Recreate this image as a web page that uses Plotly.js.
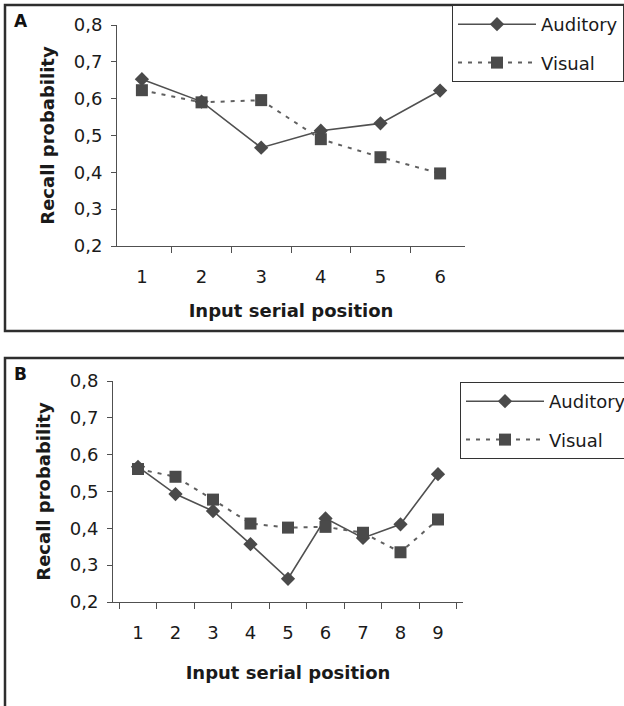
<!DOCTYPE html>
<html>
<head>
<meta charset="utf-8">
<script src="https://cdn.plot.ly/plotly-3.0.1.min.js"></script>
<style>
  html, body { margin: 0; padding: 0; background: #ffffff; }
  #chart { width: 624px; height: 706px; }
</style>
</head>
<body>
<div id="chart"></div>
<script>
// ---- Data ----
const positionsA = ['1', '2', '3', '4', '5', '6'];
const auditoryA = [0.653, 0.592, 0.467, 0.513, 0.533, 0.622];
const visualA   = [0.623, 0.590, 0.596, 0.490, 0.441, 0.397];

const positionsB = ['1', '2', '3', '4', '5', '6', '7', '8', '9'];
const auditoryB = [0.567, 0.493, 0.447, 0.357, 0.263, 0.427, 0.374, 0.411, 0.547];
const visualB   = [0.561, 0.540, 0.478, 0.413, 0.402, 0.404, 0.388, 0.335, 0.424];

const seriesNames = ['Auditory', 'Visual'];
const panelLabels = ['A', 'B'];
const xTitle = 'Input serial position';
const yTitle = 'Recall probability';

// ---- Styling ----
const W = 624, H = 706;
const px = v => v / W;
const py = v => 1 - v / H;
const FONT = 'DejaVu Sans';
const lineCol = '#505050';
const markCol = '#4a4a4a';

function audTrace(x, y, xa, ya, leg) {
  return {
    type: 'scatter', mode: 'lines+markers', name: seriesNames[0],
    x: x, y: y, xaxis: xa, yaxis: ya, legend: leg, legendgroup: leg + 'a',
    line: { color: lineCol, width: 1.6 },
    marker: { symbol: 'diamond', size: 11, color: markCol, line: { width: 0 } },
    hoverinfo: 'skip'
  };
}
function visTrace(x, y, xa, ya, leg) {
  return {
    type: 'scatter', mode: 'lines+markers', name: seriesNames[1],
    x: x, y: y, xaxis: xa, yaxis: ya, legend: leg, legendgroup: leg + 'v',
    line: { color: '#606060', width: 2, dash: '4px,6px' },
    marker: { symbol: 'square', size: 12, color: markCol, line: { width: 0 } },
    hoverinfo: 'skip'
  };
}

const data = [
  audTrace(positionsA, auditoryA, 'x', 'y', 'legend'),
  visTrace(positionsA, visualA, 'x', 'y', 'legend'),
  audTrace(positionsB, auditoryB, 'x2', 'y2', 'legend2'),
  visTrace(positionsB, visualB, 'x2', 'y2', 'legend2')
];

function xAxis(domain, anchor, standoff) {
  return {
    domain: domain, anchor: anchor, type: 'category',
    tickson: 'boundaries', ticks: 'outside', ticklen: 6, tickwidth: 1, tickcolor: lineCol,
    showline: true, linecolor: lineCol, linewidth: 1,
    showgrid: false, zeroline: false, fixedrange: true,
    ticklabelstandoff: 14,
    tickfont: { family: FONT, size: 18, color: '#1a1a1a' },
    title: { text: xTitle, standoff: standoff,
             font: { family: FONT, size: 18, color: '#1a1a1a', weight: 'bold' } }
  };
}
function yAxis(domain, anchor) {
  return {
    domain: domain, anchor: anchor, range: [0.2, 0.8], dtick: 0.1, tick0: 0.2,
    tickformat: '.1f', ticks: 'outside', ticklen: 5, tickwidth: 1, tickcolor: lineCol,
    showline: true, linecolor: lineCol, linewidth: 1,
    showgrid: false, zeroline: false, fixedrange: true,
    ticklabelstandoff: 5,
    tickfont: { family: FONT, size: 18, color: '#1a1a1a' },
    title: { text: yTitle, standoff: 14,
             font: { family: FONT, size: 18, color: '#1a1a1a', weight: 'bold' } }
  };
}

const legendStyle = (x, y) => ({
  x: x, y: y, xanchor: 'left', yanchor: 'top', xref: 'paper', yref: 'paper',
  bgcolor: '#ffffff', bordercolor: '#333333', borderwidth: 1,
  font: { family: FONT, size: 18, color: '#1a1a1a' },
  itemwidth: 78, tracegroupgap: 12, itemclick: false, itemdoubleclick: false
});

const layout = {
  width: W, height: H,
  margin: { l: 0, r: 0, t: 0, b: 0, autoexpand: false },
  paper_bgcolor: '#ffffff', plot_bgcolor: 'rgba(0,0,0,0)',
  separators: ', ',
  showlegend: true,
  xaxis: xAxis([px(117), px(465)], 'y', 18),
  yaxis: yAxis([py(246), py(25)], 'x'),
  xaxis2: xAxis([px(113), px(463)], 'y2', 24),
  yaxis2: yAxis([py(602), py(381)], 'x2'),
  legend: legendStyle(px(452), py(5)),
  legend2: legendStyle(px(460), py(382)),
  shapes: [
    { type: 'rect', xref: 'paper', yref: 'paper', x0: px(5), x1: px(640), y0: py(331), y1: py(5),
      line: { color: '#2e2e2e', width: 2.5 }, layer: 'below' },
    { type: 'rect', xref: 'paper', yref: 'paper', x0: px(5), x1: px(640), y0: py(720), y1: py(358),
      line: { color: '#2e2e2e', width: 2.5 }, layer: 'below' }
  ],
  annotations: [
    { text: '<b>' + panelLabels[0] + '</b>', xref: 'paper', yref: 'paper', x: px(12), y: py(21),
      xanchor: 'left', yanchor: 'middle', showarrow: false,
      font: { family: FONT, size: 17, color: '#111111' } },
    { text: '<b>' + panelLabels[1] + '</b>', xref: 'paper', yref: 'paper', x: px(12), y: py(374),
      xanchor: 'left', yanchor: 'middle', showarrow: false,
      font: { family: FONT, size: 17, color: '#111111' } }
  ]
};

Plotly.newPlot('chart', data, layout, { staticPlot: true, displayModeBar: false });
</script>
</body>
</html>
